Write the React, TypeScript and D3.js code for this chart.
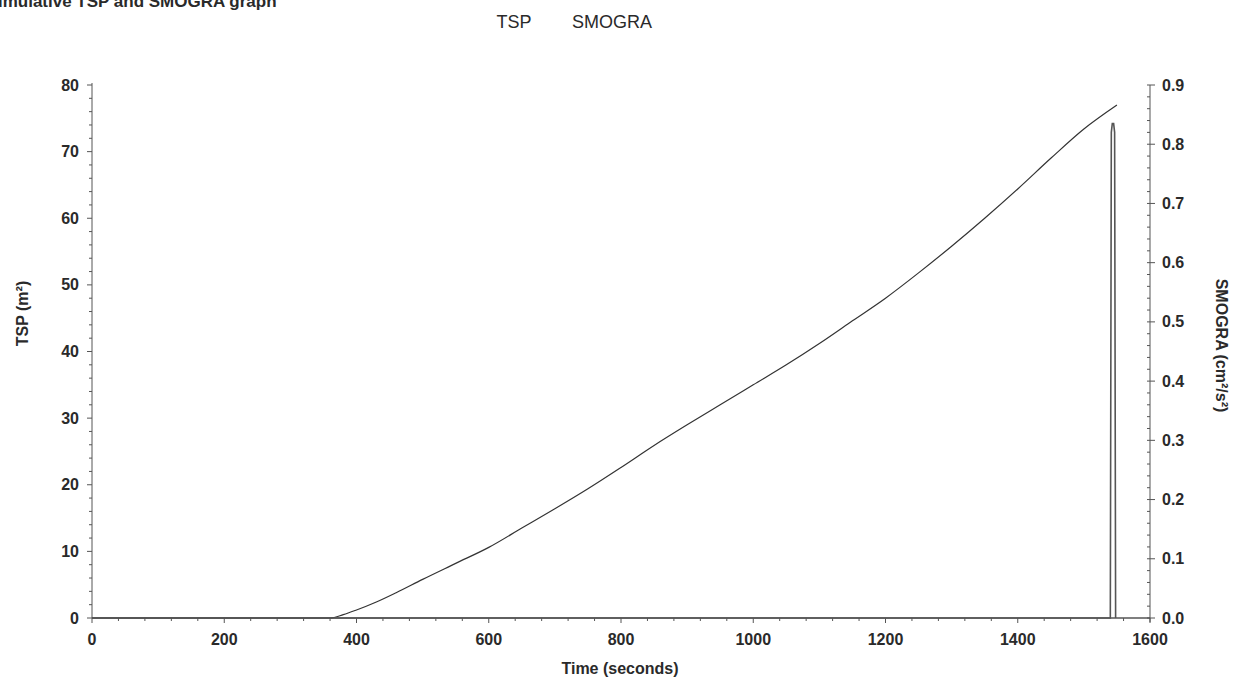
import React from "react";
import * as d3 from "d3";

const tspTime = [0, 100, 200, 300, 360, 380, 400, 430, 460, 500, 550, 600, 650, 700, 750, 800, 850, 900, 950, 1000, 1050, 1100, 1150, 1200, 1250, 1300, 1350, 1400, 1450, 1500, 1550];
const tspValue = [0, 0, 0, 0, 0, 0.5, 1.2, 2.4, 3.8, 5.8, 8.2, 10.6, 13.5, 16.4, 19.4, 22.6, 25.9, 29.0, 32.0, 35.0, 38.0, 41.2, 44.6, 48.0, 51.8, 55.8, 60.0, 64.4, 69.0, 73.4, 77.0];

const smograTime = [0, 400, 800, 1200, 1540, 1541.5, 1543, 1545, 1546.5, 1548];
const smograValue = [0, 0, 0, 0, 0, 0.82, 0.835, 0.835, 0.82, 0];

const xTicks = [0, 200, 400, 600, 800, 1000, 1200, 1400, 1600];
const leftTicks = [0, 10, 20, 30, 40, 50, 60, 70, 80];
const rightTicks = [0, 0.1, 0.2, 0.3, 0.4, 0.5, 0.6, 0.7, 0.8, 0.9];

const W = 1243;
const H = 683;
const X0 = 92, X1 = 1150, Y0 = 618, Y1 = 85;

export default function App() {
  const x = d3.scaleLinear().domain([0, 1600]).range([X0, X1]);
  const yL = d3.scaleLinear().domain([0, 80]).range([Y0, Y1]);
  const yR = d3.scaleLinear().domain([0, 0.9]).range([Y0, Y1]);

  const tspLine = d3.line<number>().x((_, i) => x(tspTime[i])).y((d) => yL(d)).curve(d3.curveMonotoneX)(tspValue) || "";
  const smLine = d3.line<number>().x((_, i) => x(smograTime[i])).y((d) => yR(d))(smograValue) || "";

  const xMinor = d3.range(0, 1601, 40);
  const lMinor = d3.range(0, 80.01, 2);
  const rMinor = d3.range(0, 0.901, 0.02);

  const axisColor = "#555";
  const textColor = "#2a2a2a";
  const font = "'Liberation Sans', Arial, sans-serif";
  const narrow = "'Liberation Sans Narrow', 'Arial Narrow', 'Liberation Sans', sans-serif";
  const fs = 16;

  return (
    <svg width={W} height={H} style={{ position: "absolute", left: 0, top: 0, background: "#fff" }}>
      <rect x={0} y={0} width={W} height={H} fill="#fff" />
      <text x={-20} y={7} fontFamily={font} fontWeight="bold" fontSize={17} fill={textColor}>
        Cumulative TSP and SMOGRA graph
      </text>
      <text x={514} y={28} textAnchor="middle" fontFamily={narrow} fontSize={18} fill={textColor}>TSP</text>
      <text x={612} y={28} textAnchor="middle" fontFamily={narrow} fontSize={18} fill={textColor}>SMOGRA</text>

      {/* left axis */}
      <line x1={X0} x2={X0} y1={Y1 - 2} y2={Y0} stroke={axisColor} strokeWidth={1} />
      {lMinor.map((v) => (
        <line key={"lm" + v} x1={X0 - (v % 10 === 0 ? 5 : 3)} x2={X0} y1={yL(v)} y2={yL(v)} stroke={axisColor} strokeWidth={1} />
      ))}
      {leftTicks.map((v) => (
        <text key={"lt" + v} x={X0 - 13} y={yL(v)} dy="0.35em" textAnchor="end" fontFamily={font} fontWeight="bold" fontSize={fs} fill={textColor}>
          {v}
        </text>
      ))}
      <text transform={`translate(22,${(Y0 + Y1) / 2 - 38}) rotate(-90)`} textAnchor="middle" dy="0.35em" fontFamily={font} fontWeight="bold" fontSize={fs} fill={textColor}>
        TSP (m²)
      </text>

      {/* right axis */}
      <line x1={X1} x2={X1} y1={Y1} y2={Y0 + 4} stroke={axisColor} strokeWidth={1} />
      {rMinor.map((v) => (
        <line key={"rm" + v.toFixed(2)} x1={X1 - 3} x2={X1} y1={yR(v)} y2={yR(v)} stroke={axisColor} strokeWidth={1} />
      ))}
      {rightTicks.map((v) => (
        <g key={"rt" + v}>
          <line x1={X1} x2={X1 + 5} y1={yR(v)} y2={yR(v)} stroke={axisColor} strokeWidth={1} />
          <text x={X1 + 12} y={yR(v)} dy="0.35em" textAnchor="start" fontFamily={font} fontWeight="bold" fontSize={fs} fill={textColor}>
            {v.toFixed(1)}
          </text>
        </g>
      ))}
      <text transform={`translate(1222,${(Y0 + Y1) / 2 - 6}) rotate(90)`} textAnchor="middle" dy="0.35em" fontFamily={font} fontWeight="bold" fontSize={fs} fill={textColor}>
        SMOGRA (cm²/s²)
      </text>

      {/* x axis */}
      <line x1={X0} x2={X1} y1={Y0} y2={Y0} stroke={axisColor} strokeWidth={1.5} />
      {xMinor.map((v) => (
        <line key={"xm" + v} x1={x(v)} x2={x(v)} y1={Y0} y2={Y0 + (v % 200 === 0 ? 5 : 3)} stroke={axisColor} strokeWidth={1} />
      ))}
      {xTicks.map((v) => (
        <text key={"xt" + v} x={x(v)} y={Y0 + 21} dy="0.35em" textAnchor="middle" fontFamily={font} fontWeight="bold" fontSize={fs} fill={textColor}>
          {v}
        </text>
      ))}
      <text x={(X0 + X1) / 2 - 1} y={Y0 + 50} dy="0.35em" textAnchor="middle" fontFamily={font} fontWeight="bold" fontSize={fs} fill={textColor}>
        Time (seconds)
      </text>

      {/* series */}
      <path d={tspLine} fill="none" stroke="#333" strokeWidth={1.2} />
      <path d={smLine} fill="none" stroke="#555" strokeWidth={1.6} />
    </svg>
  );
}
